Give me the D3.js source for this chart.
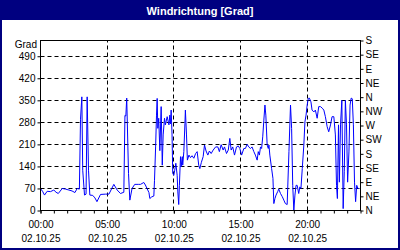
<!DOCTYPE html>
<html><head><meta charset="utf-8">
<script src="https://cdn.jsdelivr.net/npm/d3@7"></script>
<style>html,body{margin:0;padding:0;background:#fff;}svg{display:block;}</style>
</head><body>
<script>
const title = "Windrichtung [Grad]";
const yUnit = "Grad";
const dateLabel = "02.10.25";
const leftTicks = [0,70,140,210,280,350,420,490];
const compassLabels = ["N","NE","E","SE","S","SW","W","NW","N","NE","E","SE","S"];
const compassDegrees = [0,45,90,135,180,225,270,315,360,405,450,495,540];
const majorHours = [0,5,10,15,20];
// time in minutes since 00:00, wind direction in degrees
const times = [0,10,18,30,45,60,70,80,98,112,128,142,155,165,175,180,186,190,198,205,210,216,222,235,245,254,270,292,308,330,345,360,375,380,384,388,396,402,412,424,442,
450,465,472,488,492,500,510,513,518,522,525,528,532,537,543,548,552,558,562,570,578,582,585,588,592,595,600,604,609,615,618,622,625,630,633,638,640,645,650,652,657,661,668,675,682,690,698,705,712,717,724,732,738,745,753,760,768,777,788,798,805,813,822,828,837,845,852,858,865,873,882,890,897,905,915,
922,930,937,945,952,960,967,975,980,985,990,995,1000,1005,1010,1014,1020,1025,1028,1032,1040,1046,1050,1055,1060,1068,1072,1080,1088,1095,1102,1110,1118,1125,1130,1135,1140,1145,1150,1155,1162,1167,1172,1178,1185,1190,1195,1200,1205,1210,1217,1222,1230,1237,1245,1252,1260,1268,1275,1282,1290,1297,1305,1312,1320,1327,1332,1336,1341,1345,1350,1356,1362,1367,1372,1377,1382,1388,1393,1398,1403,1408,1413,1418,1423,1428,1433,1438];
const values = [70,60,49,61,60,65,58,54,70,68,65,62,57,70,68,290,361,128,49,52,361,128,49,48,40,28,51,52,52,83,65,54,58,302,300,357,118,33,70,83,83,
83,89,81,57,38,43,46,96,202,303,356,261,293,190,330,144,240,293,272,298,272,303,275,319,240,118,112,128,150,112,59,19,80,171,139,171,144,187,277,319,240,160,176,168,174,166,181,187,144,133,153,171,208,189,176,189,181,192,202,202,187,209,192,202,181,192,229,192,202,176,202,205,197,176,197,
197,210,202,197,202,187,176,160,187,176,202,197,234,287,335,303,208,197,208,176,133,102,22,38,49,61,68,54,44,33,22,19,187,335,261,80,1,49,80,80,54,75,70,133,208,282,303,335,356,357,345,319,313,319,293,330,330,325,319,298,266,250,272,298,298,240,80,38,272,90,272,350,6,123,350,272,90,186,335,357,355,272,90,28,80,70,70];

const W = 400, H = 250;
const svg = d3.select("body").append("svg").attr("width", W).attr("height", H)
  .style("font-family", "'Liberation Sans', Arial, sans-serif");

svg.append("rect").attr("x",0).attr("y",0).attr("width",W).attr("height",H).attr("fill","#fff");
svg.append("rect").attr("x",0).attr("y",0).attr("width",W).attr("height",20).attr("fill","#000080");
svg.append("rect").attr("x",1).attr("y",1).attr("width",W-2).attr("height",H-2)
  .attr("fill","none").attr("stroke","#000080").attr("stroke-width",2);
svg.append("text").attr("x",200).attr("y",14.5).attr("text-anchor","middle")
  .attr("fill","#fff").attr("font-weight","bold").attr("font-size",11).text(title);

const x = d3.scaleLinear().domain([0,1440]).range([40.5,360.5]);
const y = d3.scaleLinear().domain([0,540]).range([210.5,40.5]);

// grid
const grid = svg.append("g").attr("stroke","#000").attr("stroke-dasharray","4,3").attr("stroke-width",1);
leftTicks.filter(v=>v>0).forEach(v=>{
  grid.append("line").attr("x1",x(0)).attr("x2",x(1440)).attr("y1",Math.round(y(v))+0.5).attr("y2",Math.round(y(v))+0.5);
});
majorHours.filter(h=>h>0).forEach(h=>{
  const xx = Math.round(x(h*60)-0.5)+0.5;
  grid.append("line").attr("x1",xx).attr("x2",xx).attr("y1",y(0)).attr("y2",y(540));
});

// line
const line = d3.line().x((d,i)=>x(times[i])).y(d=>y(d));
svg.append("path").datum(values).attr("d", line).attr("fill","none")
  .attr("stroke","#0000ff").attr("stroke-width",1);

// frame
svg.append("rect").attr("x",40.5).attr("y",40.5).attr("width",320).attr("height",170)
  .attr("fill","none").attr("stroke","#000");

// left axis
const yl = d3.scaleLinear().domain([0,540]).range([210,40]);
const leftAxis = svg.append("g").attr("transform","translate(40.5,0.5)")
  .call(d3.axisLeft(yl).tickValues(leftTicks).tickSize(3).tickPadding(2));
leftAxis.select(".domain").remove();
leftAxis.selectAll("text").attr("font-size",10).attr("fill","#000").attr("font-family","'Liberation Sans', Arial, sans-serif");
svg.append("text").attr("x",37).attr("y",48).attr("text-anchor","end").attr("font-size",10).text(yUnit);

// right axis
const rightAxis = svg.append("g").attr("transform","translate(360.5,0.5)")
  .call(d3.axisRight(yl).tickValues(compassDegrees).tickSize(3).tickPadding(2)
    .tickFormat((d,i)=>compassLabels[i]));
rightAxis.select(".domain").remove();
rightAxis.selectAll("text").attr("font-size",10).attr("fill","#000").attr("font-family","'Liberation Sans', Arial, sans-serif");

// bottom axis: hourly minor ticks
const xb = d3.scaleLinear().domain([0,1440]).range([40,360]);
const minor = svg.append("g").attr("transform","translate(0.5,210.5)")
  .call(d3.axisBottom(xb).tickValues(d3.range(0,1441,60)).tickSize(3).tickFormat(""));
minor.select(".domain").remove();
const major = svg.append("g").attr("transform","translate(0.5,210.5)")
  .call(d3.axisBottom(xb).tickValues(majorHours.map(h=>h*60)).tickSize(3).tickPadding(7)
    .tickFormat(d=>String(d/60).padStart(2,"0")+":00"));
major.select(".domain").remove();
major.selectAll("text").attr("font-size",10).attr("fill","#000").attr("font-family","'Liberation Sans', Arial, sans-serif")
  .each(function(){
    const t = d3.select(this); const s = t.text(); t.text("");
    t.append("tspan").attr("x",0).attr("dy","0.71em").text(s);
    t.append("tspan").attr("x",0).attr("dy","1.4em").text(dateLabel);
  });
</script>
</body></html>
